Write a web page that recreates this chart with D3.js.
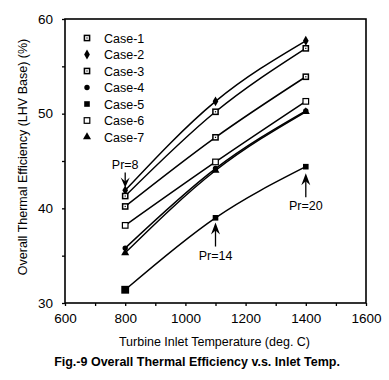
<!DOCTYPE html>
<html><head><meta charset="utf-8">
<script src="https://cdn.jsdelivr.net/npm/d3@7"></script>
<style>
body{margin:0;background:#fff;}
svg{display:block;font-family:"Liberation Sans",Arial,sans-serif;}
</style></head><body>
<svg id="c" width="389" height="380"></svg>
<script>
const temps = [800, 1100, 1400];
const caseNames = ["Case-1","Case-2","Case-3","Case-4","Case-5","Case-6","Case-7"];
const case1 = [40.2, 47.5, 53.9];
const case2 = [41.9, 51.3, 57.7];
const case3 = [41.3, 50.2, 56.9];
const case4 = [35.8, 44.2, 50.3];
const case5 = [31.4, 39.0, 44.4];
const case6 = [38.2, 44.9, 51.3];
const case7 = [35.3, 44.0, 50.2];
const seriesValues = [case1, case2, case3, case4, case5, case6, case7];
const markerShapes = ["sqdot","diamond","sqdot","circle","fsquare","osquare","triangle"];
const xTicks = [600,700,800,900,1000,1100,1200,1300,1400,1500,1600];
const xTickLabels = [600,800,1000,1200,1400,1600];
const yTicks = [30,35,40,45,50,55,60];
const yTickLabels = [30,40,50,60];
const annoLabels = ["Pr=8","Pr=14","Pr=20"];
const annoTemp = [800, 1100, 1400];
const annoValue = [42.2, 38.5, 43.7];
const annoDir = ["down","up","up"];

const svg = d3.select("#c");
const L=65, R=366, T=19, B=303;
const x = d3.scaleLinear().domain([600,1600]).range([L,R]);
const y = d3.scaleLinear().domain([30,60]).range([B,T]);

// axes
const xa = svg.append("g").attr("transform",`translate(0,${B})`)
  .call(d3.axisBottom(x).tickValues(xTicks).tickSize(3).tickPadding(7)
    .tickFormat(d=>xTickLabels.includes(d)?d:""));
const ya = svg.append("g").attr("transform",`translate(${L},0)`)
  .call(d3.axisLeft(y).tickValues(yTicks).tickSize(3).tickPadding(9)
    .tickFormat(d=>yTickLabels.includes(d)?d:""));
[xa,ya].forEach(a=>{
  a.select(".domain").remove();
  a.selectAll("line").attr("stroke","#000").attr("stroke-width",1.3);
  a.selectAll("text").attr("fill","#000").style("font-size","13.5px").style("font-family","'Liberation Sans',Arial,sans-serif");
});
// frame
svg.append("rect").attr("x",L).attr("y",T).attr("width",R-L).attr("height",B-T)
  .attr("fill","none").attr("stroke","#000").attr("stroke-width",1.6);

// lines
const line = d3.line().x((d,i)=>x(temps[i])).y(d=>y(d)).curve(d3.curveMonotoneX);
seriesValues.forEach(vals=>{
  svg.append("path").attr("d",line(vals)).attr("fill","none")
    .attr("stroke","#000").attr("stroke-width",1.5);
});

function drawMarker(g, shape, cx, cy, big){
  const s = big?1.4:1;
  if(shape==="sqdot"){
    g.append("rect").attr("x",cx-2.6*s).attr("y",cy-2.6*s).attr("width",5.2*s).attr("height",5.2*s)
      .attr("fill","#fff").attr("stroke","#000").attr("stroke-width",1.5);
    g.append("rect").attr("x",cx-0.6).attr("y",cy-0.6).attr("width",1.2).attr("height",1.2).attr("fill","#000");
  } else if(shape==="osquare"){
    g.append("rect").attr("x",cx-2.8*s).attr("y",cy-2.8*s).attr("width",5.6*s).attr("height",5.6*s)
      .attr("fill","#fff").attr("stroke","#000").attr("stroke-width",1.2);
  } else if(shape==="fsquare"){
    g.append("rect").attr("x",cx-2.8*s).attr("y",cy-2.8*s).attr("width",5.6*s).attr("height",5.6*s).attr("fill","#000");
  } else if(shape==="circle"){
    g.append("circle").attr("cx",cx).attr("cy",cy).attr("r",2.7*s).attr("fill","#000");
  } else if(shape==="diamond"){
    g.append("path").attr("transform",`translate(${cx},${cy})`).attr("d",d3.symbol(d3.symbolDiamond,28*s*s)()).attr("fill","#000");
  } else if(shape==="triangle"){
    g.append("path").attr("transform",`translate(${cx},${cy})`).attr("d",d3.symbol(d3.symbolTriangle,28*s*s)()).attr("fill","#000");
  }
}
const mg = svg.append("g");
seriesValues.forEach((vals,si)=>{
  vals.forEach((v,i)=>{
    drawMarker(mg, markerShapes[si], x(temps[i]), y(v), si===4 && i===0);
  });
});

// legend
const lg = svg.append("g");
caseNames.forEach((n,i)=>{
  const yy = 38 + i*16.5;
  drawMarker(lg, markerShapes[i], 87, yy, false);
  lg.append("text").attr("x",104).attr("y",yy+4.5).text(n)
    .style("font-size","12.5px").attr("fill","#000");
});

// annotations
annoLabels.forEach((lab,i)=>{
  const ax = x(annoTemp[i]), ty = y(annoValue[i]);
  const g = svg.append("g");
  if(annoDir[i]==="down"){
    g.append("line").attr("x1",ax).attr("x2",ax).attr("y1",ty-15).attr("y2",ty-4).attr("stroke","#000").attr("stroke-width",1.3);
    g.append("path").attr("d",`M${ax},${ty} L${ax-4.5},${ty-10} L${ax},${ty-6} L${ax+4.5},${ty-10} Z`).attr("fill","#000");
    g.append("text").attr("x",ax).attr("y",ty-19).attr("text-anchor","middle").text(lab).style("font-size","12.5px");
  } else {
    g.append("line").attr("x1",ax).attr("x2",ax).attr("y1",ty+4).attr("y2",ty+24).attr("stroke","#000").attr("stroke-width",1.3);
    g.append("path").attr("d",`M${ax},${ty} L${ax-4.5},${ty+12} L${ax},${ty+8} L${ax+4.5},${ty+12} Z`).attr("fill","#000");
    g.append("text").attr("x",ax).attr("y",ty+37).attr("text-anchor","middle").text(lab).style("font-size","12.5px");
  }
});

// titles
svg.append("text").attr("x",(L+R)/2-1).attr("y",346).attr("text-anchor","middle")
  .text("Turbine Inlet Temperature (deg. C)").style("font-size","12.5px");
svg.append("text").attr("transform","translate(27,157) rotate(-90)").attr("text-anchor","middle")
  .text("Overall Thermal Efficiency (LHV Base) (%)").style("font-size","12.5px");
svg.append("text").attr("x",197).attr("y",366).attr("text-anchor","middle")
  .text("Fig.-9 Overall Thermal Efficiency v.s. Inlet Temp.").style("font-size","12.5px").style("font-weight","bold");
</script>
</body></html>
